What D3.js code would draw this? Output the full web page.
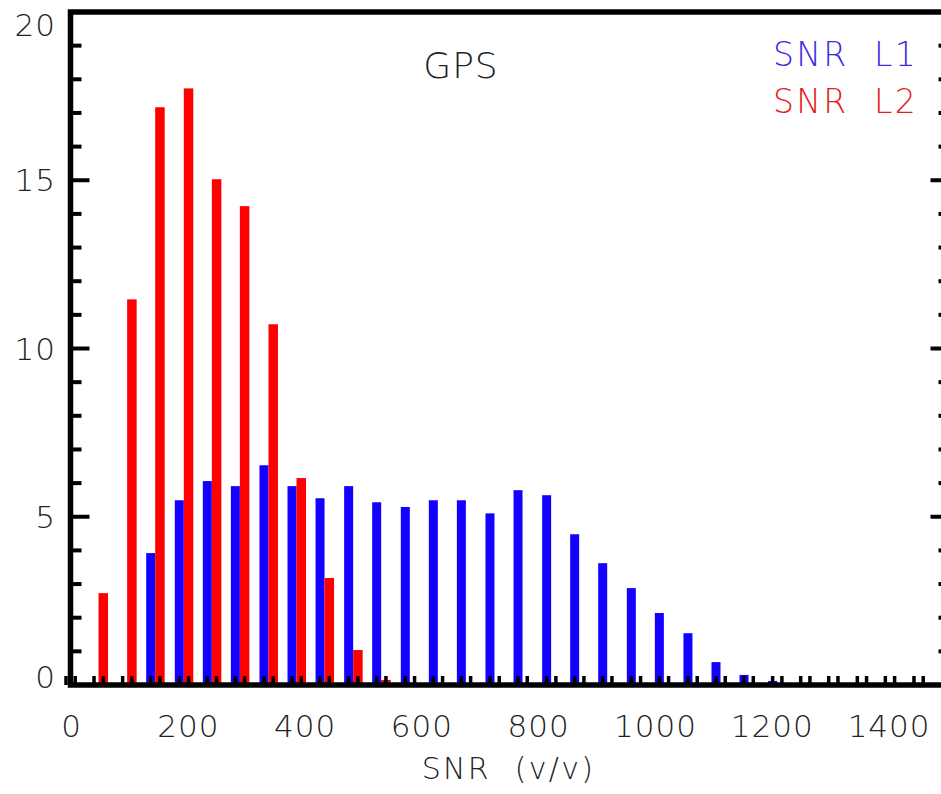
<!DOCTYPE html>
<html>
<head>
<meta charset="utf-8">
<script src="https://cdn.jsdelivr.net/npm/d3@7"></script>
<style>
  body { margin: 0; background: #fff; }
  text { font-family: "DejaVu Sans", sans-serif; font-weight: 200; }
</style>
</head>
<body>
<div id="chart"></div>
<script>

// ---------------------------------------------
// ---------          Data           -----------
// ---------------------------------------------

// left edge of each SNR bin (31 bins over 0..1500)
const binStart = [0, 48, 97, 145, 194, 242, 290, 339, 387, 435, 484, 532, 581, 629, 677,
                  726, 774, 823, 871, 919, 968, 1016, 1065, 1113, 1161, 1210, 1258, 1306,
                  1355, 1403, 1452];

// percentage per bin
const snrL1 = [0, 0, 0, 3.92, 5.49, 6.06, 5.91, 6.53, 5.91, 5.55, 5.91, 5.43, 5.29, 5.49, 5.49,
               5.1, 5.79, 5.64, 4.48, 3.62, 2.88, 2.14, 1.54, 0.68, 0.3, 0.12, 0, 0, 0, 0, 0];
const snrL2 = [0, 2.73, 11.46, 17.17, 17.73, 15.03, 14.23, 10.72, 6.15, 3.18, 1.04, 0.15, 0, 0, 0,
               0, 0, 0, 0, 0, 0, 0, 0, 0, 0, 0, 0, 0, 0, 0, 0];

const xTicks = [0, 200, 400, 600, 800, 1000, 1200, 1400];
const yTicks = [0, 5, 10, 15, 20];

// ---------------------------------------------
// ---------          Config         -----------
// ---------------------------------------------

const W = 941, H = 794;
const pLeft = 70.5, pRight = 946.5, pTop = 12, pBottom = 685;
const blue = "#1400ff", red = "#ff0000";
const barW = 9;

const svg = d3.select("#chart")
  .append("svg")
    .attr("width", W)
    .attr("height", H);

const x = d3.scaleLinear().domain([0, 1500]).range([pLeft, pRight]);
const y = d3.scaleLinear().domain([0, 20]).range([pBottom, pTop]);

// ---------------------------------------------
// ---------          Bars           -----------
// ---------------------------------------------

const bins = binStart.map((b, i) => ({ b: b, l1: snrL1[i], l2: snrL2[i] }));

svg.append("g").selectAll("rect")
  .data(bins.filter(d => d.l1 > 0))
  .join("rect")
    .attr("x", d => x(d.b) - barW)
    .attr("y", d => y(d.l1))
    .attr("width", barW)
    .attr("height", d => y(0) - y(d.l1))
    .style("fill", blue);

svg.append("g").selectAll("rect")
  .data(bins.filter(d => d.l2 > 0))
  .join("rect")
    .attr("x", d => x(d.b))
    .attr("y", d => y(d.l2))
    .attr("width", barW + 0.5)
    .attr("height", d => y(0) - y(d.l2))
    .style("fill", red);

// small black marks at the foot of every bar slot
const marks = svg.append("g");
marks.selectAll(".m1")
  .data(bins)
  .join("rect")
    .attr("class", "m1")
    .attr("x", d => x(d.b) - barW / 2 - 1.75)
    .attr("y", pBottom - 9)
    .attr("width", 3.5)
    .attr("height", 9)
    .style("fill", "#000");
marks.selectAll(".m2")
  .data(bins)
  .join("rect")
    .attr("class", "m2")
    .attr("x", d => x(d.b) + barW / 2 - 1.5)
    .attr("y", pBottom - 9)
    .attr("width", 3.5)
    .attr("height", 9)
    .style("fill", "#000");

// ---------------------------------------------
// ---------          Axes           -----------
// ---------------------------------------------

const minorY = d3.range(0, 21, 1);

// left axis ticks
svg.append("g").selectAll("line")
  .data(minorY)
  .join("line")
    .attr("x1", pLeft)
    .attr("x2", d => pLeft + (d % 5 === 0 ? 19 : 11))
    .attr("y1", d => y(d))
    .attr("y2", d => y(d))
    .style("stroke", "#000")
    .style("stroke-width", 4);

// right axis ticks
svg.append("g").selectAll("line")
  .data(minorY)
  .join("line")
    .attr("x1", pRight + 2)
    .attr("x2", d => pRight + 2 - (d % 5 === 0 ? 18 : 10))
    .attr("y1", d => y(d))
    .attr("y2", d => y(d))
    .style("stroke", "#000")
    .style("stroke-width", 4);

// frame
svg.append("rect")
  .attr("x", pLeft)
  .attr("y", pTop)
  .attr("width", pRight + 2 - pLeft)
  .attr("height", pBottom - pTop)
  .style("fill", "none")
  .style("stroke", "#000")
  .style("stroke-width", 5.5);

// y labels
svg.append("g").selectAll("text")
  .data(yTicks)
  .join("text")
    .attr("x", 56)
    .attr("y", d => y(d) + 11 + (d === 20 ? 13 : 0) + (d === 0 ? -8 : 0))
    .attr("text-anchor", "end")
    .attr("font-size", 31)
    .style("letter-spacing", "1px")
    .style("fill", "#222")
    .text(d => d);

// x labels
svg.append("g").selectAll("text")
  .data(xTicks)
  .join("text")
    .attr("x", d => x(d) + 1)
    .attr("y", 737)
    .attr("text-anchor", "middle")
    .attr("font-size", 31)
    .style("letter-spacing", "1px")
    .style("fill", "#222")
    .text(d => d);

// x title
svg.append("text")
  .attr("x", (pLeft + pRight) / 2)
  .attr("y", 779)
  .attr("text-anchor", "middle")
  .attr("font-size", 30)
  .style("letter-spacing", "2.3px")
  .style("white-space", "pre")
  .style("fill", "#222")
  .text("SNR  (v/v)");

// ---------------------------------------------
// ---------      Title / legend     -----------
// ---------------------------------------------

svg.append("text")
  .attr("x", 461)
  .attr("y", 78)
  .attr("text-anchor", "middle")
  .attr("font-size", 36)
  .style("letter-spacing", "1px")
  .style("fill", "#222")
  .text("GPS");

svg.append("text")
  .attr("x", 773)
  .attr("y", 66)
  .attr("font-size", 33)
  .style("letter-spacing", "2.3px")
  .style("white-space", "pre")
  .style("fill", "#3a2ce0")
  .text("SNR  L1");

svg.append("text")
  .attr("x", 773)
  .attr("y", 113)
  .attr("font-size", 33)
  .style("letter-spacing", "2.3px")
  .style("white-space", "pre")
  .style("fill", "#e52020")
  .text("SNR  L2");

</script>
</body>
</html>
